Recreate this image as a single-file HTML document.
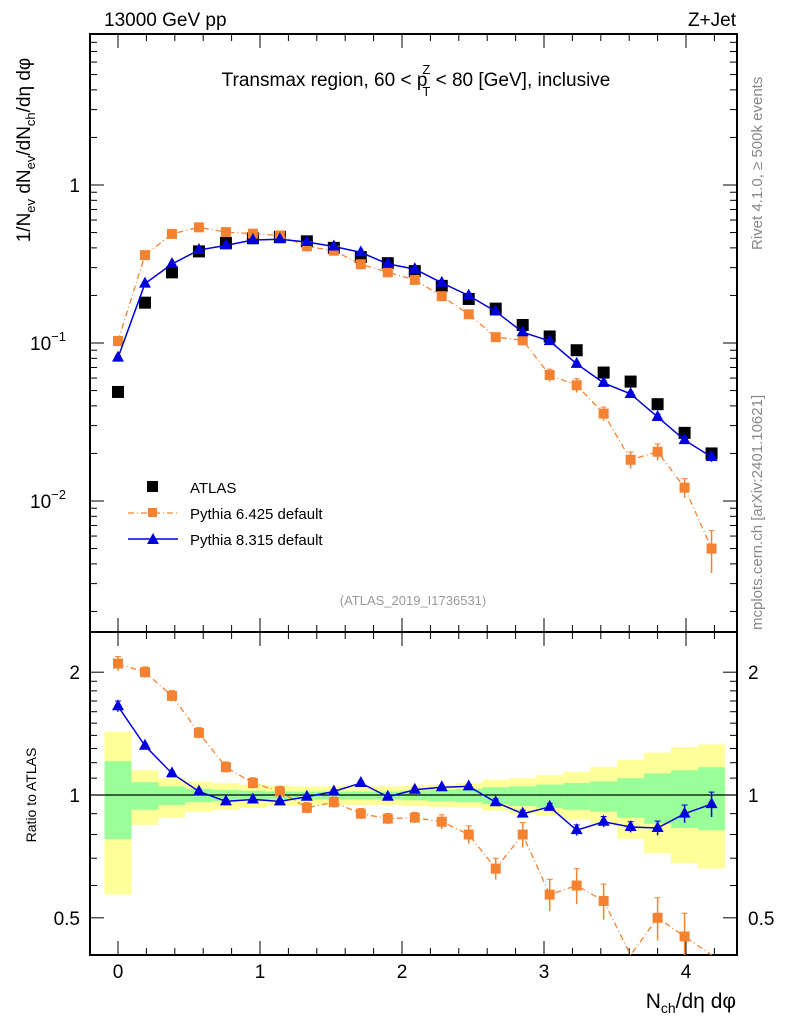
<!DOCTYPE html>
<html><head><meta charset="utf-8"><style>
body{margin:0;background:#fff}
svg{display:block;font-family:"Liberation Sans",sans-serif}
</style></head><body>
<svg id="c" width="786" height="1024" viewBox="0 0 786 1024" xmlns="http://www.w3.org/2000/svg">
<text x="104" y="26" font-size="19">13000 GeV pp</text>
<text x="736" y="26" font-size="19" text-anchor="end">Z+Jet</text>
<text x="416" y="86" font-size="19" text-anchor="middle">Transmax region, 60 &lt; p<tspan font-size="13" dy="-12" dx="-5">Z</tspan><tspan font-size="13" dy="22" dx="-8">T</tspan><tspan dy="-10"> &lt; 80 [GeV], inclusive</tspan></text>
<text x="413" y="605" font-size="13" fill="#999" text-anchor="middle">(ATLAS_2019_I1736531)</text>
<text transform="translate(762,250) rotate(-90)" font-size="15" fill="#888">Rivet 4.1.0, ≥ 500k events</text>
<text transform="translate(762,630) rotate(-90)" font-size="15" fill="#888">mcplots.cern.ch [arXiv:2401.10621]</text>
<text transform="translate(30,150) rotate(-90)" font-size="19" text-anchor="middle">1/N<tspan font-size="13" dy="5">ev</tspan><tspan dy="-5"> dN</tspan><tspan font-size="13" dy="5">ev</tspan><tspan dy="-5">/dN</tspan><tspan font-size="13" dy="5">ch</tspan><tspan dy="-5">/dη dφ</tspan></text>
<text transform="translate(36,795) rotate(-90)" font-size="14" text-anchor="middle">Ratio to ATLAS</text>
<text x="736" y="1008" font-size="21" text-anchor="end">N<tspan font-size="14" dy="5">ch</tspan><tspan dy="-5">/dη dφ</tspan></text>
<g id="main"></g><g id="ratio"></g>
<g>
<rect x="147" y="481" width="11" height="11" fill="#000"/>
<text x="190" y="493" font-size="15">ATLAS</text>
<line x1="128" y1="513" x2="178" y2="513" stroke="#f58231" stroke-width="1.3" stroke-dasharray="6,3,1,3"/>
<rect x="148" y="508" width="9" height="9" fill="#f58231"/>
<text x="190" y="519" font-size="15">Pythia 6.425 default</text>
<line x1="128" y1="539" x2="178" y2="539" stroke="#0000dd" stroke-width="1.5"/>
<path d="M153,533 L159,544 L147,544 Z" fill="#0000dd"/>
<text x="190" y="545" font-size="15">Pythia 8.315 default</text>
</g>
</svg>
<script>
const xCenters=[0,0.19,0.38,0.57,0.76,0.95,1.14,1.33,1.52,1.71,1.9,2.09,2.28,2.47,2.66,2.85,3.04,3.23,3.42,3.61,3.8,3.99,4.18];
const atlas=[0.049,0.18,0.28,0.38,0.43,0.46,0.47,0.44,0.40,0.35,0.32,0.285,0.23,0.19,0.165,0.13,0.11,0.09,0.065,0.057,0.041,0.027,0.020];
const ratioP8=[1.65,1.32,1.13,1.02,0.965,0.975,0.965,0.99,1.02,1.07,0.99,1.03,1.045,1.05,0.96,0.9,0.935,0.82,0.86,0.835,0.83,0.9,0.95];
const ratioP6=[2.1,2.0,1.75,1.42,1.17,1.07,1.02,0.93,0.96,0.9,0.875,0.88,0.86,0.8,0.66,0.8,0.57,0.6,0.55,0.32,0.5,0.45,0.25];
const errP6=[0.04,0.03,0.03,0.03,0.03,0.03,0.03,0.03,0.03,0.03,0.03,0.03,0.04,0.05,0.06,0.07,0.09,0.1,0.1,0.12,0.12,0.14,0.3];
const errP8=[0.03,0.01,0.01,0.01,0.01,0.01,0.01,0.01,0.01,0.01,0.01,0.01,0.01,0.01,0.02,0.02,0.02,0.03,0.03,0.03,0.04,0.05,0.07];
const yelUp=[1.43,1.15,1.10,1.08,1.07,1.06,1.055,1.05,1.05,1.05,1.05,1.055,1.06,1.07,1.09,1.10,1.12,1.14,1.17,1.22,1.27,1.31,1.33];
const yelDn=[0.57,0.845,0.88,0.91,0.92,0.93,0.94,0.945,0.945,0.945,0.945,0.94,0.935,0.93,0.915,0.90,0.89,0.87,0.85,0.78,0.72,0.68,0.66];
const grnUp=[1.21,1.075,1.05,1.035,1.03,1.025,1.02,1.02,1.02,1.02,1.02,1.025,1.03,1.035,1.045,1.05,1.06,1.07,1.08,1.1,1.13,1.15,1.17];
const grnDn=[0.78,0.92,0.945,0.96,0.965,0.97,0.975,0.975,0.975,0.975,0.975,0.97,0.965,0.96,0.95,0.94,0.93,0.92,0.91,0.88,0.85,0.83,0.82];
const xTicks=[0,1,2,3,4];
const mainTickLabels=[[1,"1",""],[0.1,"10","−1"],[0.01,"10","−2"]];
const ratioTickLabels=[[2,"2"],[1,"1"],[0.5,"0.5"]];

const NS="http://www.w3.org/2000/svg";
const L=90,R=737,T=34,MB=632,RB=955;
const X=v=>118+v*142;
const Ym=v=>185-158*Math.log10(v);
const Yr=v=>795-408*Math.log10(v);
function mk(p,tag,at){const e=document.createElementNS(NS,tag);for(const k in at)e.setAttribute(k,at[k]);p.appendChild(e);return e;}
const main=document.getElementById('main'),ratio=document.getElementById('ratio');
const hw=0.095;
xCenters.forEach((x,i)=>{
  const a=X(x-hw),b=X(x+hw);
  const y=mk(ratio,'rect',{x:a,y:Yr(yelUp[i]),width:b-a,height:Yr(yelDn[i])-Yr(yelUp[i]),fill:'#ffff99'});
  
  
  const g=mk(ratio,'rect',{x:a,y:Yr(grnUp[i]),width:b-a,height:Yr(grnDn[i])-Yr(grnUp[i]),fill:'#99ff99'});
  
  
});
const one=mk(ratio,'line',{x1:L,x2:R,y1:Yr(1),y2:Yr(1),stroke:'#000','stroke-width':1.3});


[[T,MB],[MB,RB]].forEach(([t,b])=>{
  const f=mk(main,'rect',{x:L,y:t,width:R-L,height:b-t,fill:'none',stroke:'#000','stroke-width':2});
  
  
  for(let v=-0.2;v<=4.35;v+=0.2){const xx=X(Math.round(v*10)/10);if(xx<L||xx>R)continue;
    const maj=Math.abs(v-Math.round(v))<1e-6;const len=maj?14:7;
    mk(main,'line',{x1:xx,x2:xx,y1:t,y2:t+len,stroke:'#000'});
    mk(main,'line',{x1:xx,x2:xx,y1:b,y2:b-len,stroke:'#000'});}
});
xTicks.forEach(v=>{const t=mk(main,'text',{x:X(v),y:978,'font-size':19,'text-anchor':'middle'});t.textContent=v;
  
  });
for(let d=-3;d<=0;d++)for(let m=1;m<=9;m++){const v=m*Math.pow(10,d);const y=Ym(v);if(y<T||y>MB)continue;const len=m==1?14:7;
  mk(main,'line',{x1:L,x2:L+len,y1:y,y2:y,stroke:'#000'});mk(main,'line',{x1:R,x2:R-len,y1:y,y2:y,stroke:'#000'});}
mainTickLabels.forEach(([v,b,e])=>{const t=mk(main,'text',{x:e?66:80,y:Ym(v)+7,'font-size':19,'text-anchor':'end'});
  t.textContent=b;if(e){const s=mk(t,'tspan',{'font-size':13,dy:-9});s.textContent=e;}
  
  });
[0.5,0.6,0.7,0.8,0.9,1,1.1,1.2,1.3,1.4,1.5,1.6,1.7,1.8,1.9,2].forEach(v=>{const y=Yr(v);const maj=(v==0.5||v==1||v==2);const len=maj?14:7;
  mk(ratio,'line',{x1:L,x2:L+len,y1:y,y2:y,stroke:'#000'});mk(ratio,'line',{x1:R,x2:R-len,y1:y,y2:y,stroke:'#000'});});
ratioTickLabels.forEach(([v,s])=>{[[80,'end'],[748,'start']].forEach(([x,a])=>{const t=mk(ratio,'text',{x:x,y:Yr(v)+7,'font-size':19,'text-anchor':a});t.textContent=s;
  
  });});
const p6=atlas.map((a,i)=>a*ratioP6[i]), p8=atlas.map((a,i)=>a*ratioP8[i]);
function series(g,vals,err,Y,color,kind,top,lo){
  const clip=v=>Math.max(Math.min(Y(v),lo),top);
  const pts=vals.map((v,i)=>X(xCenters[i])+','+clip(v)).join(' ');
  const pl=mk(g,'polyline',{points:pts,fill:'none',stroke:color,'stroke-width':kind=='tri'?1.5:1.3,'stroke-dasharray':kind=='tri'?'none':'6,3,1,3'});
  
  
  vals.forEach((v,i)=>{const x=X(xCenters[i]),y=Y(v);if(y>lo||y<top)return;
    const e=err[i]*v;const ya=Math.min(Y(v+e),lo),yb=Math.min(Y(Math.max(v-e,1e-6)),lo);
    mk(g,'line',{x1:x,x2:x,y1:ya,y2:yb,stroke:color,'stroke-width':1.5});
    mk(g,'line',{x1:x-3,x2:x+3,y1:ya,y2:ya,stroke:color});
    let m;
    if(kind=='tri')m=mk(g,'path',{d:`M${x},${y-7}L${x+6},${y+4}L${x-6},${y+4}Z`,fill:color});
    else m=mk(g,'rect',{x:x-5,y:y-5,width:10,height:10,fill:color});
    
    });
}
atlas.forEach((v,i)=>{const r=mk(main,'rect',{x:X(xCenters[i])-6,y:Ym(v)-6,width:12,height:12,fill:'#000'});
  
  });
series(main,p6,errP6,Ym,'#f58231','sq',T,MB);
series(main,p8,errP8,Ym,'#0000dd','tri',T,MB);
series(ratio,ratioP6,errP6,Yr,'#f58231','sq',MB,RB);
series(ratio,ratioP8,errP8,Yr,'#0000dd','tri',MB,RB);
</script>
</body></html>
